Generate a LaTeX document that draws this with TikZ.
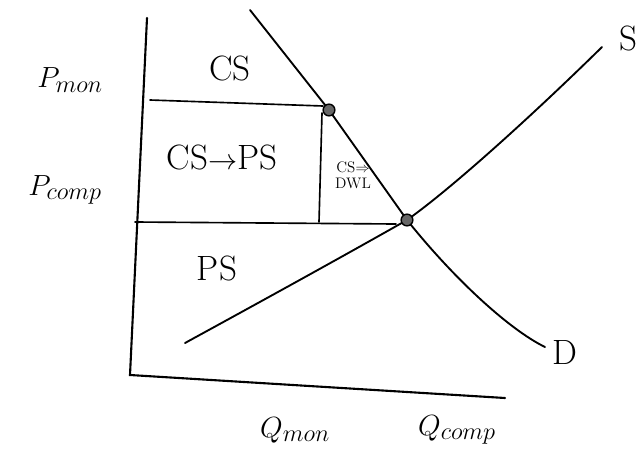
\documentclass[tikz,border=0pt]{standalone}
\usepackage{amsmath}
\usetikzlibrary{calc}
\tikzset{
  axis/.style   = {line width=1.8pt, line cap=round},
  curve/.style  = {line width=1.6pt, line cap=round, line join=round},
  level/.style  = {line width=1.4pt, line cap=round},
  lbl/.style    = {font=\fontsize{30}{32}\selectfont, inner sep=0pt},
  slbl/.style   = {font=\fontsize{13}{14}\selectfont, align=center, inner sep=0pt},
  eqdot/.style  = {circle, draw, line width=1.2pt, fill=black!60,
                   minimum size=10pt, inner sep=0pt},
}

\begin{document}
\begin{tikzpicture}[x=0.03cm, y=-0.03cm]
  \useasboundingbox (0,0) rectangle (644,468);
  % axes
  \coordinate (top)    at (147,18);
  \coordinate (origin) at (130,375);
  \coordinate (right)  at (505,398);
  \draw[axis] (top) -- (origin) -- (right);

  % equilibrium points
  \coordinate (mon)  at (329,110);
  \coordinate (comp) at (407,220);

  % demand and supply
  \coordinate (Dtop) at (250,10);
  \coordinate (Dend) at (545,347);
  \coordinate (Sbot) at (185,343);
  \coordinate (Stop) at (602,47);
  \draw[curve] (Dtop) -- (mon) -- (comp)
    .. controls (455,280) and (510,330) .. (Dend);
  \draw[curve] (Sbot) .. controls (260,302) and (340,258) .. (comp)
    .. controls (455,186) and (540,108) .. (Stop);

  % price levels and quantity cut
  \coordinate (pm) at (150,100);
  \coordinate (pc) at (135,222);
  \coordinate (qm) at (319,222);
  \draw[level] (pm) -- (323,106);
  \draw[level] (pc) -- (396,224);
  \draw[level] (322,113) -- (qm);

  \node[eqdot] (monpt)  at (mon)  {};
  \node[eqdot] (comppt) at (comp) {};

  % labels
  \node[lbl] (Pmon)  at (70,80)   {$P_{mon}$};
  \node[lbl] (Pcomp) at (65,190)  {$P_{comp}$};
  \node[lbl] (cs)    at (230,68)  {CS};
  \node[lbl] (cspa)  at (222,157) {CS$\rightarrow$PS};
  \node[lbl] (ps)    at (217,268) {PS};
  \node[slbl] (dwl)  at (353,175) {CS$\Rightarrow$\\DWL};
  \node[lbl] (Qmon)  at (295,430) {$Q_{mon}$};
  \node[lbl] (Qcomp) at (457,430) {$Q_{comp}$};
  \node[lbl] (Slbl)  at (628,38)  {S};
  \node[lbl] (Dlbl)  at (565,352) {D};
\end{tikzpicture}
\end{document}
